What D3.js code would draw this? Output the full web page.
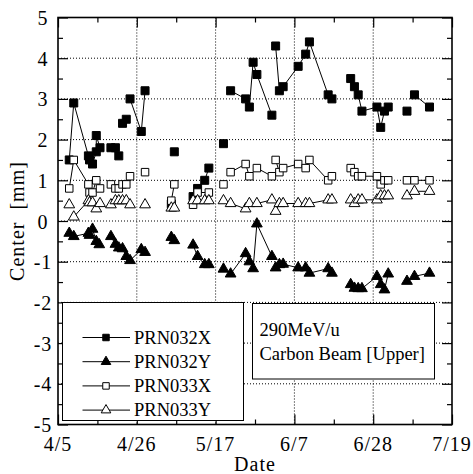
<!DOCTYPE html>
<html>
<head>
<meta charset="utf-8">
<script src="https://cdn.jsdelivr.net/npm/d3@7"></script>
<style>
  body { margin: 0; background: #fff; }
  text { font-family: "Liberation Serif", "Times New Roman", serif; fill: #000; }
  .grid line { stroke: #000; stroke-width: 1; stroke-dasharray: 1, 2; }
  .axis path { display: none; }
  .axis line { stroke: #000; stroke-width: 1.2; }
</style>
</head>
<body>
<script>
// days counted from 4/5; each probe is a list of runs, one run = one connected line
const xTicks = [0, 21, 42, 63, 84, 105];
const yTicks = [-5, -4, -3, -2, -1, 0, 1, 2, 3, 4, 5];
const names = ["PRN032X", "PRN032Y", "PRN033X", "PRN033Y"];
const note = ["290MeV/u", "Carbon Beam [Upper]"];

const prn032x = [
  [[3, 1.5], [4.2, 2.9], [8.1, 1.6], [8.4, 1.5], [9.2, 1.4], [10.2, 1.7], [10.2, 2.1], [11.2, 1.8]],
  [[14.1, 1.8], [15.3, 1.8], [16.2, 1.6]],
  [[17.2, 2.4], [18.2, 2.5]],
  [[19.2, 3.0], [22.2, 2.2], [23.2, 3.2]],
  [[30.2, 0.42]],
  [[31, 1.7]],
  [[36, 0.6], [37.2, 0.8], [39.1, 1.0], [40.2, 1.3]],
  [[44.1, 1.9]],
  [[46, 3.2], [50, 3.0], [51, 2.8], [52, 3.9], [53, 3.6], [57, 2.6]],
  [[58, 4.3], [59, 3.2], [60, 3.3], [64, 3.8], [66, 4.1], [67, 4.4], [72, 3.1], [73, 3.0]],
  [[78, 3.5], [79, 3.3], [80, 3.1], [81, 2.7], [85, 2.8], [86, 2.3], [87, 2.7], [88, 2.8]],
  [[93, 2.7]],
  [[95, 3.1], [99, 2.8]]
];

const prn032y = [
  [[3, -0.3], [4.2, -0.38], [8.1, -0.3], [8.4, -0.35], [9.2, -0.2], [10.2, -0.5], [11, -0.58]],
  [[14.1, -0.38], [15.3, -0.57], [16.2, -0.66], [17.2, -0.68], [18.2, -0.87]],
  [[19.2, -0.97], [22.2, -0.7], [23.2, -0.77]],
  [[30.2, -0.4], [31, -0.48]],
  [[36, -0.59], [37.2, -0.87], [39.1, -1.07], [40.2, -1.07]],
  [[44.1, -1.18]],
  [[46, -1.3], [50, -0.8], [51, -1.0], [52, -1.17], [53, -0.07], [57, -0.87]],
  [[58, -1.15], [59, -1.07], [60, -1.06], [64, -1.15], [66, -1.15], [67, -1.28], [72, -1.17], [73, -1.28]],
  [[78, -1.56], [79, -1.65], [80, -1.66], [81, -1.66], [85, -1.36], [86, -1.56], [87, -1.69], [88, -1.3]],
  [[93, -1.48]],
  [[95, -1.36], [99, -1.28]]
];

const prn033x = [
  [[3, 0.8], [4.2, 1.5], [8.1, 0.9], [8.4, 0.7], [9.2, 0.7], [10.2, 1.0], [11.2, 0.8]],
  [[14.1, 0.9], [15.3, 0.8], [16.2, 0.8], [17.2, 0.9], [18.2, 0.9]],
  [[19.2, 1.1]],
  [[23.2, 1.2]],
  [[30.2, 0.5], [31, 0.9]],
  [[36, 0.4], [37.2, 0.7], [40.2, 0.7]],
  [[44.1, 0.9]],
  [[46, 1.2], [50, 1.4], [51, 1.1], [53, 1.3], [57, 1.1]],
  [[58, 1.5], [59, 1.2], [60, 1.3], [64, 1.4], [66, 1.3], [67, 1.5], [72, 1.0], [73, 1.1]],
  [[78, 1.3], [79, 1.2], [80, 1.1], [81, 1.1], [85, 1.1], [86, 0.9], [87, 1.0], [88, 1.0]],
  [[93, 1.0]],
  [[95, 1.0], [99, 1.0]]
];

const prn033y = [
  [[3, 0.4]],
  [[4.2, 0.1], [8.1, 0.5], [8.4, 0.45], [9.2, 0.45], [10.2, 0.3], [11.2, 0.43]],
  [[14.1, 0.4], [15.3, 0.5], [16.2, 0.5], [17.2, 0.5], [18.2, 0.5]],
  [[19.2, 0.4]],
  [[23.2, 0.4]],
  [[30.2, 0.32], [31, 0.32]],
  [[36, 0.5], [37.2, 0.5], [39.1, 0.5], [40.2, 0.5]],
  [[44.1, 0.5]],
  [[46, 0.43], [50, 0.3], [51, 0.43], [53, 0.43], [57, 0.52]],
  [[58, 0.24], [59, 0.43], [60, 0.43], [64, 0.43], [66, 0.43], [67, 0.43], [72, 0.52], [73, 0.52]],
  [[78, 0.52], [79, 0.43], [80, 0.52], [81, 0.52], [85, 0.52], [86, 0.62], [87, 0.62], [88, 0.62]],
  [[93, 0.62]],
  [[95, 0.73], [99, 0.73]]
];

const w = 473, h = 474;
const margin = { top: 17.5, right: 21, bottom: 49.5, left: 58 };
const iw = w - margin.left - margin.right;
const ih = h - margin.top - margin.bottom;

const start = new Date(2000, 3, 5);
const fmt = d3.timeFormat("%-m/%-d");

const x = d3.scaleLinear().domain([0, 105]).range([0, iw]);
const y = d3.scaleLinear().domain([-5, 5]).range([ih, 0]);

const svg = d3.select("body").append("svg")
  .attr("width", w)
  .attr("height", h);

const g = svg.append("g").attr("transform", `translate(${margin.left},${margin.top})`);

// dotted grid
const grid = g.append("g").attr("class", "grid");
grid.selectAll(".gx").data(xTicks.slice(1, -1)).enter().append("line")
  .attr("x1", d => x(d)).attr("x2", d => x(d))
  .attr("y1", 0).attr("y2", ih);
grid.selectAll(".gy").data(yTicks.slice(1, -1)).enter().append("line")
  .attr("x1", 0).attr("x2", iw)
  .attr("y1", d => y(d)).attr("y2", d => y(d));

// inward ticks on all four sides
const xMinor = xTicks.slice(0, -1).map(d => d + 10.5);
const yMinor = yTicks.slice(0, -1).map(d => d + 0.5);

function ticks(axisFn, scale, vals, size, tr) {
  g.append("g").attr("class", "axis").attr("transform", tr)
    .call(axisFn(scale).tickValues(vals).tickSize(-size).tickFormat(""));
}
ticks(d3.axisBottom, x, xTicks, 10, `translate(0,${ih})`);
ticks(d3.axisBottom, x, xMinor, 5, `translate(0,${ih})`);
ticks(d3.axisTop, x, xTicks, 10, "translate(0,0)");
ticks(d3.axisTop, x, xMinor, 5, "translate(0,0)");
ticks(d3.axisLeft, y, yTicks, 10, "translate(0,0)");
ticks(d3.axisLeft, y, yMinor, 5, "translate(0,0)");
ticks(d3.axisRight, y, yTicks, 10, `translate(${iw},0)`);
ticks(d3.axisRight, y, yMinor, 5, `translate(${iw},0)`);

// tick labels
g.selectAll(".xl").data(xTicks).enter().append("text")
  .attr("x", d => x(d)).attr("y", ih + 26)
  .attr("text-anchor", "middle")
  .style("font-size", "20px").style("letter-spacing", "1px")
  .text(d => fmt(d3.timeDay.offset(start, d)));
g.selectAll(".yl").data(yTicks).enter().append("text")
  .attr("x", -15).attr("y", d => y(d) + 7.5)
  .attr("text-anchor", "middle")
  .style("font-size", "20px").style("letter-spacing", "1px")
  .text(d => d);

svg.append("text")
  .attr("x", margin.left + iw / 2).attr("y", 471)
  .attr("text-anchor", "middle")
  .style("font-size", "20px").style("letter-spacing", "1px")
  .text("Date");
svg.append("text")
  .attr("transform", `translate(24,${margin.top + y(0)}) rotate(-90)`)
  .attr("text-anchor", "middle")
  .style("font-size", "20px").style("letter-spacing", "1px")
  .style("white-space", "pre")
  .text("Center  [mm]");

// series
const series = [
  { name: names[0], runs: prn032x, sym: d3.symbolSquare, size: 64, fill: "#000" },
  { name: names[1], runs: prn032y, sym: d3.symbolTriangle, size: 50, fill: "#000" },
  { name: names[2], runs: prn033x, sym: d3.symbolSquare, size: 56, fill: "#fff" },
  { name: names[3], runs: prn033y, sym: d3.symbolTriangle, size: 50, fill: "#fff" }
];

const line = d3.line().x(d => x(d[0])).y(d => y(d[1]));

series.forEach(s => {
  g.append("g").selectAll("path").data(s.runs.filter(r => r.length > 1)).enter().append("path")
    .attr("d", line)
    .attr("fill", "none")
    .attr("stroke", "#000")
    .attr("stroke-width", 1);
});
series.forEach(s => {
  const pts = s.runs.flat();
  g.append("g").selectAll("path").data(pts).enter().append("path")
    .attr("transform", d => `translate(${x(d[0])},${y(d[1])})`)
    .attr("d", d3.symbol().type(s.sym).size(s.size))
    .attr("fill", s.fill)
    .attr("stroke", "#000")
    .attr("stroke-width", 1);
});

// frame
g.append("rect")
  .attr("width", iw).attr("height", ih)
  .attr("fill", "none").attr("stroke", "#000").attr("stroke-width", 1.6);

// legend box
const lg = svg.append("g");
lg.append("rect")
  .attr("x", 62.5).attr("y", 302.5).attr("width", 181).attr("height", 118)
  .attr("fill", "#fff").attr("stroke", "#000").attr("stroke-width", 1);
series.forEach((s, i) => {
  const ly = 337.5 + i * 24.2;
  lg.append("line")
    .attr("x1", 82.5).attr("x2", 130).attr("y1", ly).attr("y2", ly)
    .attr("stroke", "#000").attr("stroke-width", 1);
  lg.append("path")
    .attr("transform", `translate(106,${ly})`)
    .attr("d", d3.symbol().type(s.sym).size(s.sym === d3.symbolSquare ? 42 : 40))
    .attr("fill", s.fill).attr("stroke", "#000").attr("stroke-width", 1);
  lg.append("text")
    .attr("x", 134).attr("y", ly + 6)
    .style("font-size", "18.5px")
    .text(s.name);
});

// note box
const nb = svg.append("g");
nb.append("rect")
  .attr("x", 252.5).attr("y", 303.5).attr("width", 182).attr("height", 75.5)
  .attr("fill", "#fff").attr("stroke", "#000").attr("stroke-width", 1);
nb.selectAll("text").data(note).enter().append("text")
  .attr("x", 259.5).attr("y", (d, i) => 335.5 + i * 24.5)
  .style("font-size", "18.5px")
  .text(d => d);
</script>
</body>
</html>
